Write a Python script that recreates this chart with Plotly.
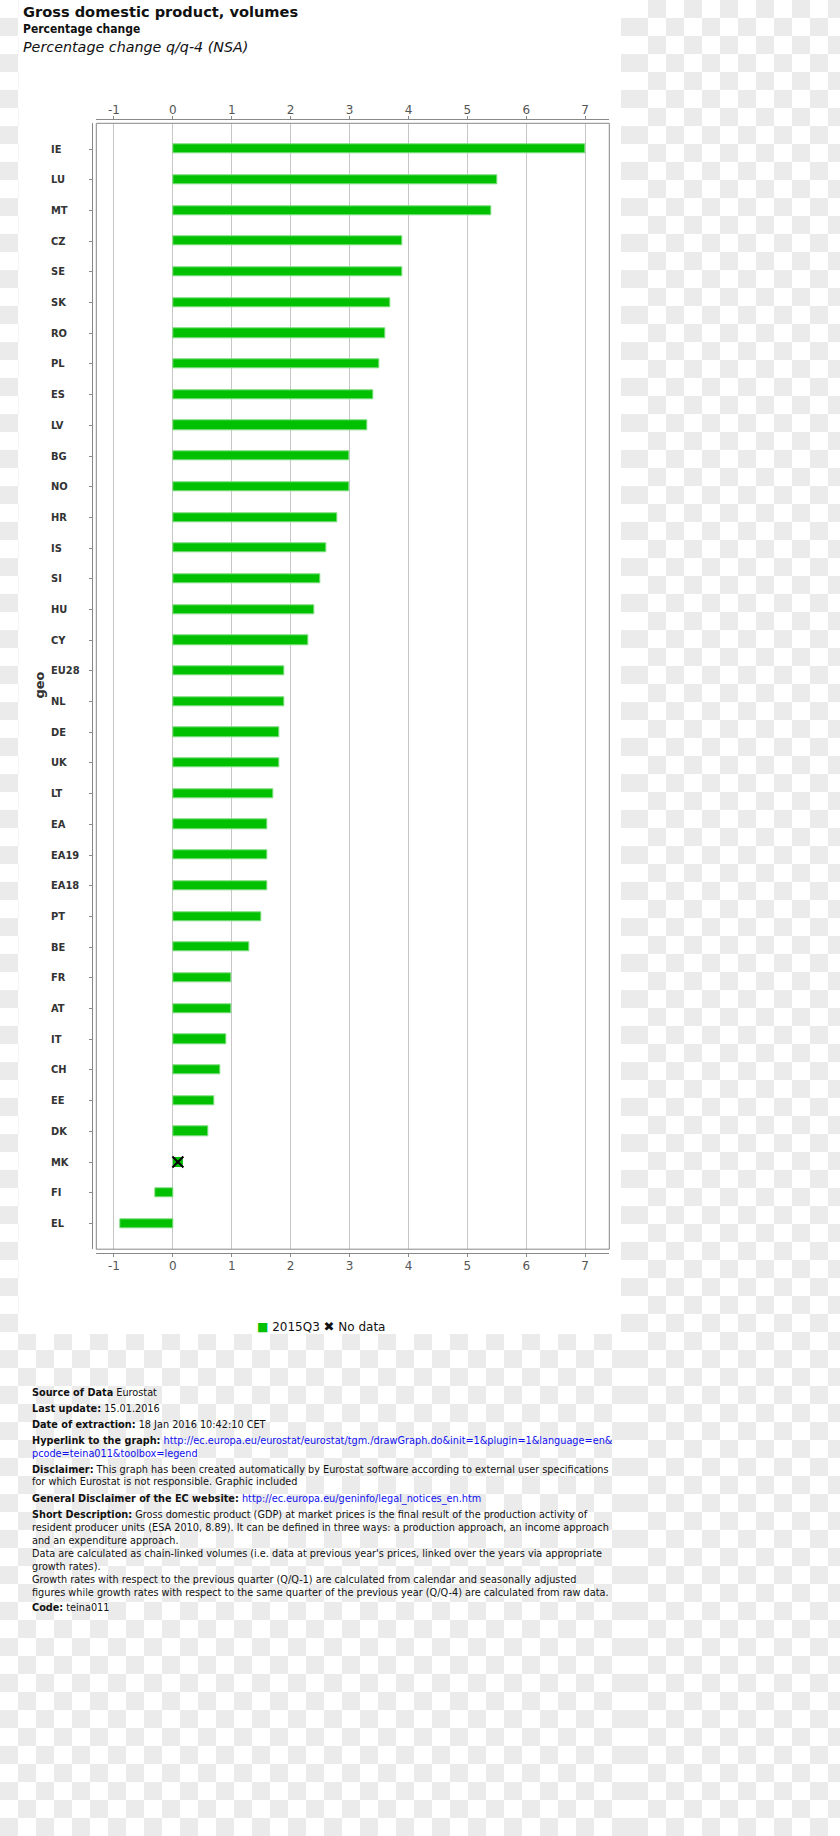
import base64
import plotly.graph_objects as go

W, H = 840, 1836

# ---------------- data ----------------
categories = ["IE", "LU", "MT", "CZ", "SE", "SK", "RO", "PL", "ES", "LV", "BG", "NO",
              "HR", "IS", "SI", "HU", "CY", "EU28", "NL", "DE", "UK", "LT", "EA", "EA19",
              "EA18", "PT", "BE", "FR", "AT", "IT", "CH", "EE", "DK", "MK", "FI", "EL"]
values_2015q3 = [7.0, 5.5, 5.4, 3.9, 3.9, 3.7, 3.6, 3.5, 3.4, 3.3, 3.0, 3.0,
                 2.8, 2.6, 2.5, 2.4, 2.3, 1.9, 1.9, 1.8, 1.8, 1.7, 1.6, 1.6,
                 1.6, 1.5, 1.3, 1.0, 1.0, 0.9, 0.8, 0.7, 0.6, None, -0.3, -0.9]
series_name = "2015Q3"
x_tick_values = [-1, 0, 1, 2, 3, 4, 5, 6, 7]
x_tick_labels = ["-1", "0", "1", "2", "3", "4", "5", "6", "7"]

title_text = "Gross domestic product, volumes"
subtitle_text = "Percentage change"
subtitle2_text = "Percentage change q/q-4 (NSA)"
y_axis_title = "geo"

footer_lines = [
    "<b>Source of Data</b> Eurostat",
    "<b>Last update:</b> 15.01.2016",
    "<b>Date of extraction:</b> 18 Jan 2016 10:42:10 CET",
    "<b>Hyperlink to the graph:</b> <span style='color:#1010f0'>http://ec.europa.eu/eurostat/eurostat/tgm./drawGraph.do&amp;init=1&amp;plugin=1&amp;language=en&amp;</span>",
    "<span style='color:#1010f0'>pcode=teina011&amp;toolbox=legend</span>",
    "<b>Disclaimer:</b> This graph has been created automatically by Eurostat software according to external user specifications",
    "for which Eurostat is not responsible. Graphic included",
    "<b>General Disclaimer of the EC website:</b> <span style='color:#1010f0'>http://ec.europa.eu/geninfo/legal_notices_en.htm</span>",
    "<b>Short Description:</b> Gross domestic product (GDP) at market prices is the final result of the production activity of",
    "resident producer units (ESA 2010, 8.89). It can be defined in three ways: a production approach, an income approach",
    "and an expenditure approach.",
    "Data are calculated as chain-linked volumes (i.e. data at previous year's prices, linked over the years via appropriate",
    "growth rates).",
    "Growth rates with respect to the previous quarter (Q/Q-1) are calculated from calendar and seasonally adjusted",
    "figures while growth rates with respect to the same quarter of the previous year (Q/Q-4) are calculated from raw data.",
    "<b>Code:</b> teina011",
]
footer_y_px = [1392.7, 1408.3, 1424, 1440.7, 1453.3, 1469.3, 1481.7, 1498.3, 1514.3,
               1527.3, 1540.7, 1553.3, 1566.7, 1579.3, 1592.3, 1607.7]

# ---------------- helpers ----------------
def px(x):
    return x / W


def py(y):
    return 1 - y / H


GREEN = "#00c000"
GREEN_EDGE = "#80dc80"
AXIS = "#888888"
GRID = "#c6c6c6"
FONT = "DejaVu Sans"
FONT_C = "DejaVu Sans Condensed, DejaVu Sans"

# checkerboard background (transparent-image look)
svg = (
    "<svg xmlns='http://www.w3.org/2000/svg' width='840' height='1836' viewBox='0 0 840 1836' preserveAspectRatio='none'>"
    "<defs>"
    "<pattern id='a' width='36' height='36' patternUnits='userSpaceOnUse'>"
    "<rect width='36' height='36' fill='#ffffff'/>"
    "<rect x='18' y='0' width='18' height='18' fill='#ebebeb'/>"
    "<rect x='0' y='18' width='18' height='18' fill='#ebebeb'/>"
    "</pattern>"
    "<pattern id='b' width='36' height='36' patternUnits='userSpaceOnUse'>"
    "<rect width='36' height='36' fill='#ffffff'/>"
    "<rect x='0' y='0' width='18' height='18' fill='#ebebeb'/>"
    "<rect x='18' y='18' width='18' height='18' fill='#ebebeb'/>"
    "</pattern>"
    "</defs>"
    "<rect x='0' y='0' width='630' height='1836' fill='url(#a)'/>"
    "<rect x='630' y='0' width='210' height='1836' fill='url(#b)'/>"
    "</svg>"
)
svg_uri = "data:image/svg+xml;base64," + base64.b64encode(svg.encode()).decode()

n = len(categories)
pad = 0.84

fig = go.Figure()

fig.add_trace(go.Bar(
    y=categories, x=values_2015q3, orientation="h", name=series_name,
    marker=dict(color=GREEN, line=dict(color=GREEN_EDGE, width=1)),
    width=0.3, xaxis="x", yaxis="y", showlegend=False, hoverinfo="x+y",
))
# invisible trace to make the bottom axis render
fig.add_trace(go.Bar(
    y=categories, x=values_2015q3, orientation="h", opacity=0,
    width=0.3, xaxis="x2", yaxis="y", showlegend=False, hoverinfo="skip",
))

x_dom = [px(96.3), px(609.3)]
y_dom = [py(1249.2), py(123.3)]
x_range = [-1.3, 7.41]

axis_common = dict(
    range=x_range, domain=x_dom, tickvals=x_tick_values, ticktext=x_tick_labels,
    showline=True, linecolor=AXIS, linewidth=1, ticks="outside", ticklen=3,
    tickcolor=AXIS, tickfont=dict(family=FONT, size=12, color="#555555"),
    zeroline=False, anchor="free", fixedrange=True,
)

fig.update_layout(
    width=W, height=H, margin=dict(l=0, r=0, t=0, b=0),
    paper_bgcolor="white", plot_bgcolor="white",
    xaxis=dict(side="top", position=py(119), showgrid=True, gridcolor=GRID,
               gridwidth=1, ticklabelstandoff=-3, **axis_common),
    xaxis2=dict(side="bottom", position=py(1253.3), overlaying="x", showgrid=False,
                ticklabelstandoff=-2, **axis_common),
    yaxis=dict(domain=y_dom, anchor="free", position=px(92.3), type="category",
               categoryorder="array", categoryarray=categories,
               range=[n - 1 + pad, -pad], showline=True, linecolor=AXIS,
               ticks="outside", ticklen=3, tickcolor=AXIS, showticklabels=False,
               showgrid=False, zeroline=False, fixedrange=True),
    showlegend=False,
    bargap=0,
)

shapes = []
# white chart panel
shapes.append(dict(type="rect", xref="paper", yref="paper", x0=px(18.5), x1=px(621),
                   y0=py(1334), y1=py(0), fillcolor="white", line=dict(width=0),
                   layer="below"))
# plot box
shapes.append(dict(type="rect", xref="paper", yref="paper", x0=x_dom[0], x1=x_dom[1],
                   y0=y_dom[0], y1=y_dom[1], line=dict(color=AXIS, width=1),
                   fillcolor="rgba(0,0,0,0)", layer="above"))
# no-data markers
for cat, v in zip(categories, values_2015q3):
    if v is None:
        shapes.append(dict(type="rect", xref="x", yref="y", xsizemode="pixel",
                           ysizemode="pixel", xanchor=0, yanchor=cat,
                           x0=0, x1=10, y0=-5, y1=5, fillcolor=GREEN,
                           line=dict(width=0), layer="above"))
        shapes.append(dict(type="line", xref="x", yref="y", xsizemode="pixel",
                           ysizemode="pixel", xanchor=0, yanchor=cat,
                           x0=-0.5, x1=10.5, y0=-5.5, y1=5.5,
                           line=dict(color="black", width=2), layer="above"))
        shapes.append(dict(type="line", xref="x", yref="y", xsizemode="pixel",
                           ysizemode="pixel", xanchor=0, yanchor=cat,
                           x0=-0.5, x1=10.5, y0=5.5, y1=-5.5,
                           line=dict(color="black", width=2), layer="above"))

annotations = []
annotations.append(dict(text="<b>" + title_text + "</b>", xref="paper", yref="paper",
                        x=px(21), y=py(11.5), xanchor="left", yanchor="middle",
                        showarrow=False,
                        font=dict(family=FONT, size=14.6, color="#111111")))
annotations.append(dict(text="<b>" + subtitle_text + "</b>", xref="paper", yref="paper",
                        x=px(21), y=py(29), xanchor="left", yanchor="middle",
                        showarrow=False, font=dict(family=FONT_C, size=12, color="#111111")))
annotations.append(dict(text="<i>" + subtitle2_text + "</i>", xref="paper", yref="paper",
                        x=px(21), y=py(46.5), xanchor="left", yanchor="middle",
                        showarrow=False, font=dict(family=FONT, size=14.3, color="#111111")))
# category labels (left aligned)
for cat in categories:
    annotations.append(dict(text="<b>" + cat + "</b>", xref="paper", yref="y",
                            x=px(48.5), y=cat, xanchor="left", yanchor="middle",
                            showarrow=False,
                            font=dict(family=FONT_C, size=11, color="#333333")))
annotations.append(dict(text="<b>" + y_axis_title + "</b>", xref="paper", yref="paper",
                        x=px(39.5), y=py(685), textangle=-90, xanchor="center",
                        yanchor="middle", showarrow=False,
                        font=dict(family=FONT, size=13, color="#333333")))
# legend
annotations.append(dict(
    text="<span style='color:%s'>■</span> %s <span style='font-size:13px'>✖</span> No data" % (GREEN, series_name),
    xref="paper", yref="paper", x=px(320.8), y=py(1326.7), xanchor="center",
    yanchor="middle", showarrow=False, font=dict(family=FONT, size=12, color="#111111")))
# footer
for line, yy in zip(footer_lines, footer_y_px):
    annotations.append(dict(text=line, xref="paper", yref="paper", x=px(29.5), y=py(yy),
                            xanchor="left", yanchor="middle", showarrow=False,
                            font=dict(family=FONT_C, size=10.8, color="#111111")))

fig.update_layout(
    shapes=shapes, annotations=annotations,
    images=[dict(source=svg_uri, xref="paper", yref="paper", x=0, y=1, sizex=1,
                 sizey=1, sizing="stretch", xanchor="left", yanchor="top",
                 layer="below")],
)

fig.write_html("out.html")
